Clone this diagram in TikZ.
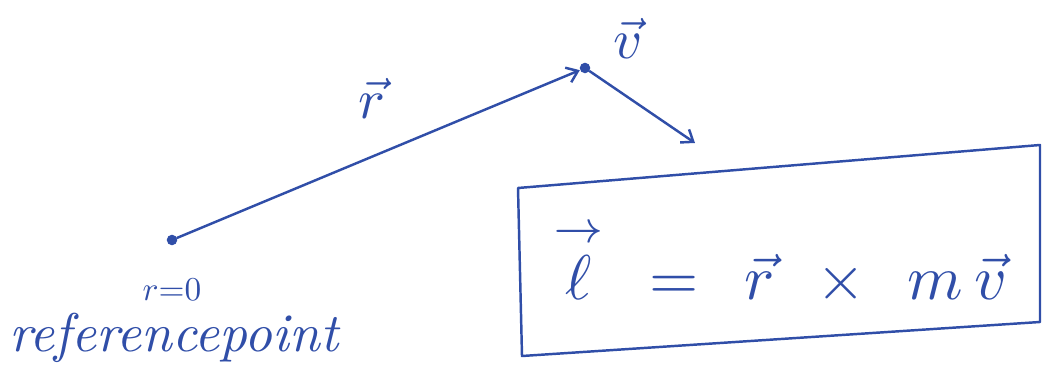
\documentclass[tikz,border=0pt]{standalone}
\usepackage{amsmath,amssymb}
\usepackage{xcolor}
\usepackage{tikz}
\usetikzlibrary{positioning,arrows.meta}
\definecolor{ink}{RGB}{48,78,168}

\begin{document}
\begin{tikzpicture}[x=0.02cm, y=-0.02cm,
  pen/.style={draw=ink, line width=1.4pt, line cap=round, line join=round},
  vecarrow/.style={pen, -{Straight Barb[length=6pt, width=9pt, line width=1.4pt]}},
  dot/.style={circle, fill=ink, inner sep=0pt, minimum size=6pt},
  lbl/.style={text=ink, inner sep=0pt},
]
\useasboundingbox (0,0) rectangle (1044,391);
\node[dot] (O) at (172,240) {};
\node[dot] (P) at (585,68)  {};
\coordinate (V) at (695,143);
\draw[vecarrow] (O) -- (P);
\draw[vecarrow] (P) -- (V);
\node[lbl, scale=3.2] (rlab) at (372,98)  {$\vec{r}$};
\node[lbl, scale=3.2] (vlab) at (628,38)  {$\vec{v}$};
\node[lbl, scale=1.9] (zero) at (172,290) {$r{=}0$};
\node[lbl, scale=3.1] (ref)  at (175,338) {\textit{referencepoint}};
% boxed result
\coordinate (b1) at (518,188);
\coordinate (b2) at (1040,145);
\coordinate (b3) at (1040,322);
\coordinate (b4) at (522,356);
\draw[pen] (b1) -- (b2) -- (b3) -- (b4) -- cycle;
\node[lbl, scale=3.6] (eq) at (780,262)
  {$\overset{\rightarrow}{\ell}\;\,=\;\,\vec{r}\;\,\times\;\,m\,\vec{v}$};
\end{tikzpicture}
\end{document}
